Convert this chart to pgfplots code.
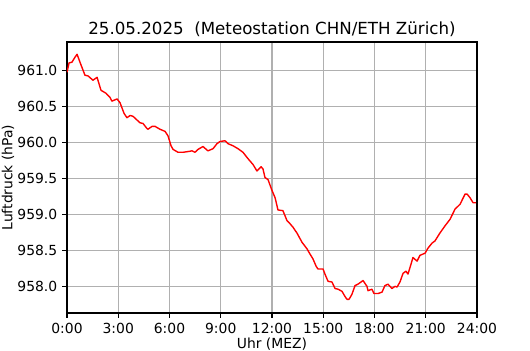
\documentclass[border=0pt]{standalone}
\usepackage{pgfplots}
\pgfplotsset{compat=1.18}
\usepackage{fontspec}
\setmainfont{DejaVu Sans}
\begin{document}
\begin{tikzpicture}
\useasboundingbox (-48.24pt,-26.64pt) rectangle (333.36pt,225.36pt);
\begin{axis}[
  at={(0,0)}, anchor=south west,
  scale only axis, width=295.2pt, height=195.1pt,
  xmin=0, xmax=24, ymin=957.63, ymax=961.39,
  xtick={0,3,...,24},
  xticklabels={0:00,3:00,6:00,9:00,12:00,15:00,18:00,21:00,24:00},
  ytick={958,958.5,...,961},
  yticklabel style={/pgf/number format/.cd, fixed, fixed zerofill, precision=1, assume math mode=true},
  scaled y ticks=false,
  tick label style={font=\fontsize{10}{12}\selectfont},
  label style={font=\fontsize{10}{12}\selectfont},
  xtick pos=bottom, ytick pos=left,
  tick align=outside, major tick length=3.5pt,
  tick style={black, line width=0.8pt},
  axis line style={black, line width=0.8pt},
  grid=major,
  major grid style={color=black!31, line width=0.8pt},
  xlabel={Uhr (MEZ)},
  ylabel={Luftdruck (hPa)},
  xlabel style={at={(axis description cs:0.5,-0.114)}, anchor=center, inner sep=0pt},
  ylabel style={at={(axis description cs:-0.144,0.5)}, anchor=center, inner sep=0pt},
  every axis title shift=0pt,
  title={25.05.2025\ \ (Meteostation CHN/ETH Zürich)},
  title style={font=\fontsize{12}{14}\selectfont, at={(axis description cs:0.5,1)}, anchor=center, yshift=9.5pt, inner sep=0pt},
]
\addplot[red, line width=1pt, line join=round] coordinates {
(0.00,960.97) (0.12,961.10) (0.29,961.11) (0.47,961.18) (0.59,961.22)
(0.76,961.11) (1.05,960.93) (1.23,960.92) (1.52,960.86) (1.76,960.90)
(1.99,960.72) (2.28,960.68) (2.52,960.62) (2.63,960.57) (2.93,960.60)
(3.10,960.55) (3.34,960.40) (3.51,960.34) (3.69,960.37) (3.86,960.36)
(4.27,960.27) (4.45,960.26) (4.68,960.19) (4.74,960.18) (4.98,960.22)
(5.15,960.22) (5.44,960.18) (5.74,960.15) (5.91,960.09) (6.09,959.95)
(6.21,959.90) (6.50,959.86) (6.79,959.86) (7.08,959.87) (7.32,959.88)
(7.49,959.86) (7.67,959.90) (7.96,959.94) (8.25,959.88) (8.55,959.91)
(8.78,959.98) (8.96,960.01) (9.25,960.02) (9.42,959.98) (9.72,959.95)
(10.01,959.91) (10.30,959.86) (10.60,959.77) (10.89,959.69) (11.12,959.60)
(11.36,959.66) (11.47,959.63) (11.59,959.51) (11.77,959.48) (12.00,959.33)
(12.18,959.23) (12.35,959.06) (12.64,959.05) (12.88,958.91) (13.05,958.87)
(13.23,958.82) (13.46,958.74) (13.76,958.61) (14.05,958.52) (14.22,958.45)
(14.40,958.38) (14.58,958.28) (14.69,958.24) (14.99,958.24) (15.10,958.17)
(15.28,958.07) (15.51,958.06) (15.69,957.97) (15.87,957.96) (16.10,957.93)
(16.27,957.86) (16.39,957.82) (16.51,957.82) (16.68,957.89) (16.86,958.01)
(17.03,958.03) (17.27,958.07) (17.33,958.08) (17.56,958.00) (17.62,957.94)
(17.85,957.96) (17.97,957.90) (18.21,957.90) (18.44,957.92) (18.61,958.01)
(18.79,958.03) (19.02,957.97) (19.20,958.00) (19.32,957.99) (19.49,958.06)
(19.67,958.18) (19.84,958.21) (19.96,958.17) (20.14,958.31) (20.25,958.40)
(20.49,958.35) (20.66,958.43) (20.96,958.46) (21.13,958.53) (21.37,958.60)
(21.54,958.63) (21.83,958.74) (22.13,958.84) (22.42,958.93) (22.71,959.07)
(23.01,959.14) (23.30,959.28) (23.42,959.28) (23.59,959.23) (23.77,959.16)
(23.94,959.16)
};
\end{axis}
\end{tikzpicture}
\end{document}
